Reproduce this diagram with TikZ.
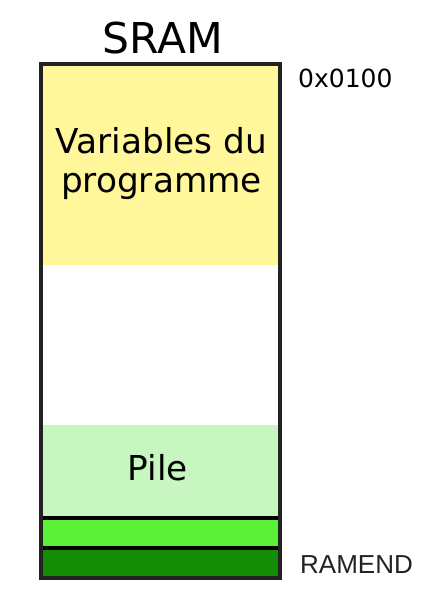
\documentclass[tikz,border=0pt]{standalone}
\usepackage{fontspec}
\setmainfont{DejaVu Sans}
\newfontfamily\ramfont{Liberation Sans}
\usetikzlibrary{positioning}
\definecolor{varyellow}{HTML}{FFF799}
\definecolor{pilegreen}{HTML}{C8F6C0}
\definecolor{bandgreen}{HTML}{5AF035}
\definecolor{darkgreen}{HTML}{148C05}
\definecolor{edgegray}{HTML}{222222}
\tikzset{
    membox/.style = {draw=black, line width=3.5pt},
    addr/.style = {anchor=base west, inner sep=0pt, font=\fontsize{25}{30}\selectfont}
}

\begin{document}
\begin{tikzpicture}[x=1pt, y=-1pt]
    \useasboundingbox (0,0) rectangle (437,610);

    % Draw memory regions.
    \fill[varyellow] (41,64) rectangle (280,265);
    \fill[pilegreen] (41,425) rectangle (280,518);
    \draw[membox, fill=bandgreen] (41,518) rectangle (280,548);
    \draw[membox, fill=darkgreen] (41,548) rectangle (280,578);

    % Draw outer frame.
    \draw[line width=4pt, edgegray] (41,64) rectangle (280,578);

    % Labels.
    \node[anchor=base, inner sep=0pt, font=\fontsize{42.5}{50}\selectfont] (title) at (163,53) {SRAM};
    \node[anchor=base, inner sep=0pt, font=\fontsize{34.3}{40}\selectfont] (vars) at (161.5,153) {Variables du};
    \node[anchor=base, inner sep=0pt, font=\fontsize{34.3}{40}\selectfont] (prog) at (161.5,192) {programme};
    \node[anchor=base, inner sep=0pt, font=\fontsize{34.3}{40}\selectfont] (pile) at (158,480) {Pile};
    \node[addr] (start) at (298,87) {0x0100};
    \node[addr, text=edgegray, font=\ramfont\fontsize{26}{31}\selectfont] (ramend) at (300,573) {RAMEND};
\end{tikzpicture}
\end{document}
